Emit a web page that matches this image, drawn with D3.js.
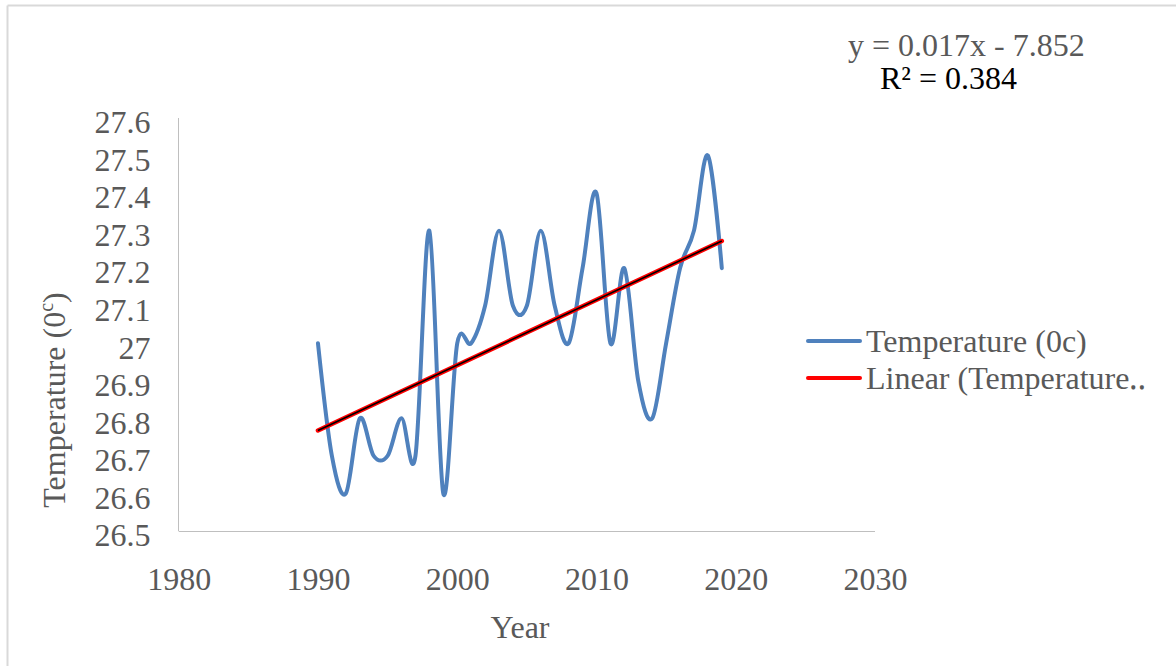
<!DOCTYPE html>
<html><head><meta charset="utf-8">
<script src="https://cdn.jsdelivr.net/npm/d3@7"></script>
<style>
html,body{margin:0;padding:0;background:#fff;}
text{font-family:"Liberation Serif","Times New Roman",serif;}
</style></head>
<body><svg id="c" width="1176" height="666"></svg>
<script>
const years = [1990,1991,1992,1993,1994,1995,1996,1997,1998,1999,2000,2001,2002,2003,2004,2005,2006,2007,2008,2009,2010,2011,2012,2013,2014,2015,2016,2017,2018,2019];
const temperature = [27.0,26.7,26.6,26.8,26.7,26.7,26.8,26.7,27.3,26.6,27.0,27.0,27.1,27.3,27.1,27.1,27.3,27.1,27.0,27.2,27.4,27.0,27.2,26.9,26.8,27.0,27.2,27.3,27.5,27.2];
const xTicks = [1980,1990,2000,2010,2020,2030];
const yTicks = [26.5,26.6,26.7,26.8,26.9,27.0,27.1,27.2,27.3,27.4,27.5,27.6];
const yTickLabels = ["26.5","26.6","26.7","26.8","26.9","27","27.1","27.2","27.3","27.4","27.5","27.6"];
const seriesNames = ["Temperature (0c)","Linear (Temperature\u2025"];
const equationText = "y = 0.017x - 7.852";
const r2Text = "R\u00b2 = 0.384";

const svg = d3.select("#c");
const x = d3.scaleLinear().domain([1980,2030]).range([178.7,875]);
const y = d3.scaleLinear().domain([26.5,27.6]).range([531,118]);
const grey = "#595959";
const FS = 32;

// outer border (top & left visible)
svg.append("line").attr("x1",7.5).attr("x2",1176).attr("y1",5.5).attr("y2",5.5).attr("stroke","#d9d9d9").attr("stroke-width",2);
svg.append("line").attr("x1",7.5).attr("x2",7.5).attr("y1",5.5).attr("y2",666).attr("stroke","#d9d9d9").attr("stroke-width",2);

// axes
const xAxis = d3.axisBottom(x).tickValues(xTicks).tickSize(0).tickFormat(d3.format("d"));
const gx = svg.append("g").attr("transform","translate(0,531.5)").call(xAxis);
gx.select(".domain").attr("stroke","#bfbfbf").attr("d",`M${x(1980)},0H${x(2030)}`);
gx.selectAll("text").attr("font-size",FS).attr("fill",grey).attr("dy",0).attr("y",58);

const yAxis = d3.axisLeft(y).tickValues(yTicks).tickSize(0).tickFormat((d,i)=>yTickLabels[i]);
const gy = svg.append("g").attr("transform","translate(178.5,0)").call(yAxis);
gy.select(".domain").attr("stroke","#bfbfbf").attr("d",`M0,${y(27.6)}V${y(26.5)}`);
gy.selectAll("text").attr("font-size",FS).attr("fill",grey).attr("x",-28).attr("dy","0.46em");

// axis titles
svg.append("text").attr("x",520).attr("y",638).attr("text-anchor","middle").attr("font-size",FS).attr("fill",grey).text("Year");
const yt = svg.append("text").attr("transform","translate(65,400) rotate(-90)").attr("text-anchor","middle").attr("font-size",FS).attr("fill",grey);
yt.append("tspan").text("Temperature (0");
yt.append("tspan").attr("font-size",20).attr("dy",-12).text("c");
yt.append("tspan").attr("dy",12).text(")");

// data
const data = years.map((yr,i)=>({x:yr,y:temperature[i]}));
const line = d3.line().x(d=>x(d.x)).y(d=>y(d.y)).curve(d3.curveCardinal.tension(0));
svg.append("path").datum(data).attr("d",line).attr("fill","none").attr("stroke","#4f81bd").attr("stroke-width",4).attr("stroke-linejoin","round").attr("stroke-linecap","round");

// linear trend (least squares)
const n = years.length;
const mx = d3.mean(years), my = d3.mean(temperature);
const slope = d3.sum(years,(v,i)=>(v-mx)*(temperature[i]-my))/d3.sum(years,v=>(v-mx)*(v-mx));
const icpt = my - slope*mx;
const trend = [years[0],years[n-1]].map(v=>({x:v,y:icpt+slope*v}));
const tl = d3.line().x(d=>x(d.x)).y(d=>y(d.y));
svg.append("path").datum(trend).attr("d",tl).attr("stroke","#ff0000").attr("stroke-width",4.5).attr("stroke-linecap","round");
svg.append("path").datum(trend).attr("d",tl).attr("stroke","#000").attr("stroke-width",1.6);

// equation
svg.append("text").attr("x",848).attr("y",56).attr("font-size",FS).attr("fill",grey).text(equationText);
svg.append("text").attr("x",880).attr("y",89).attr("font-size",FS).attr("fill","#000").text(r2Text);

// legend
const lg = svg.append("g");
const lc = ["#4f81bd","#ff0000"];
seriesNames.forEach((s,i)=>{
  const cy = 341 + i*37;
  lg.append("line").attr("x1",808).attr("x2",860).attr("y1",cy).attr("y2",cy).attr("stroke",lc[i]).attr("stroke-width",4).attr("stroke-linecap","round");
  lg.append("text").attr("x",866).attr("y",cy+11).attr("font-size",FS).attr("fill",grey).text(s);
});
</script></body></html>
